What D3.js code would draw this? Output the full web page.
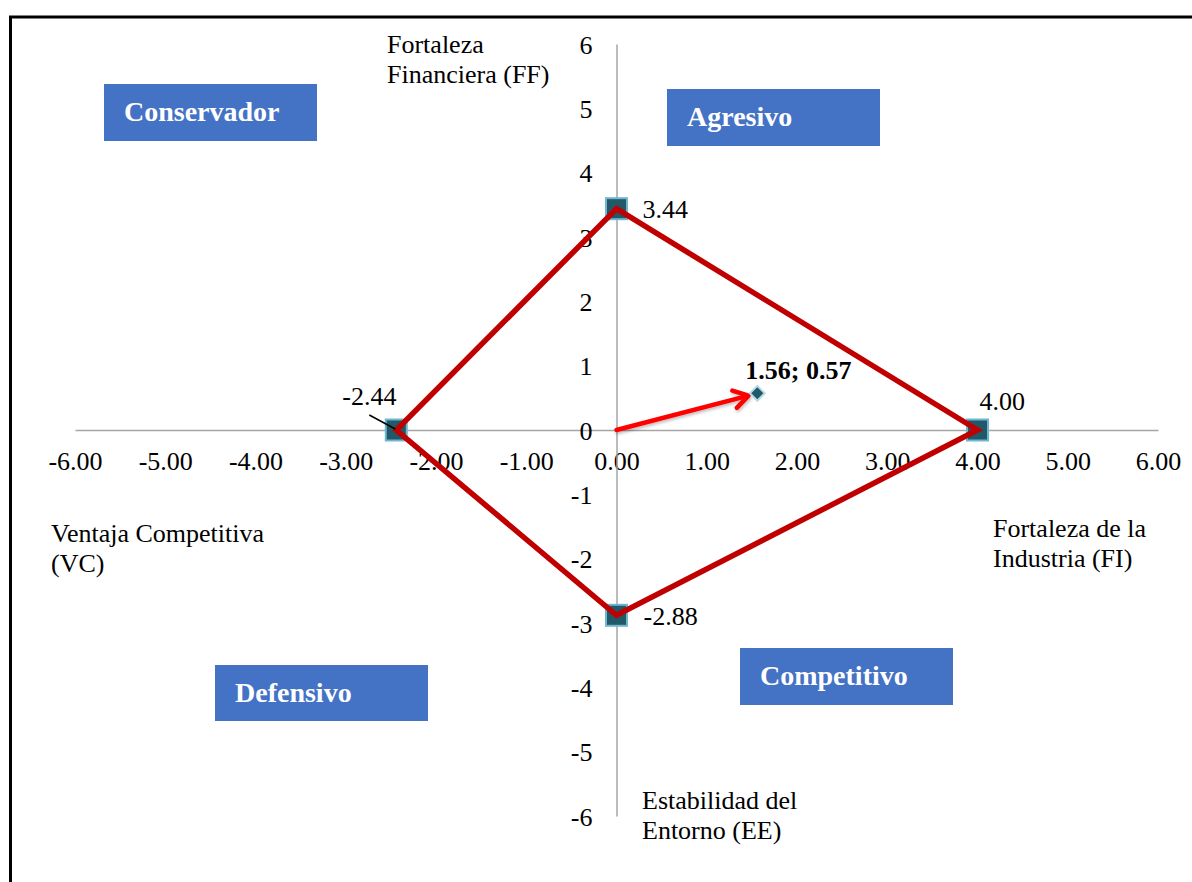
<!DOCTYPE html>
<html>
<head>
<meta charset="utf-8">
<script src="https://cdn.jsdelivr.net/npm/d3@7"></script>
<style>
  html, body { margin: 0; padding: 0; background: #fff; }
  svg { display: block; }
  text { font-family: "Liberation Serif", "Times New Roman", serif; fill: #000; }
</style>
</head>
<body>
<svg id="chart" width="1192" height="882"></svg>
<script>
// Axis ticks
const xTicks = [-6, -5, -4, -3, -2, -1, 0, 1, 2, 3, 4, 5, 6];
const yTicks = [-6, -5, -4, -3, -2, -1, 0, 1, 2, 3, 4, 5, 6];

// PEYEA vertices: FF (up), FI (right), EE (down), VC (left)
const vertexNames = ["FF", "FI", "EE", "VC"];
const vertexX = [0, 4.00, 0, -2.44];
const vertexY = [3.44, 0, -2.88, 0];
const vertexLabels = ["3.44", "4.00", "-2.88", "-2.44"];

// Resulting direction vector
const resultX = 1.56;
const resultY = 0.57;
const resultLabel = "1.56; 0.57";

// Axis titles (two lines each)
const axisTitles = [
  ["Fortaleza", "Financiera (FF)"],
  ["Fortaleza de la", "Industria (FI)"],
  ["Estabilidad del", "Entorno (EE)"],
  ["Ventaja Competitiva", "(VC)"]
];

// Strategic quadrants
const quadrantNames = ["Conservador", "Agresivo", "Defensivo", "Competitivo"];

const svg = d3.select("#chart");

// Layout
const x = d3.scaleLinear().domain([-6, 6]).range([75, 1158]);
const y = d3.scaleLinear().domain([-6, 6]).range([816, 44]);
// plain hyphen for negative numbers
const hyph = f => v => f(v).replace("\u2212", "-");
const fmtX = hyph(d3.format(".2f"));
const fmtY = hyph(d3.format("d"));

const titleLayout = [
  { x: 387, y: 53 },
  { x: 993, y: 537 },
  { x: 642, y: 809 },
  { x: 51, y: 542 }
];
const quadrantLayout = [
  { x: 104, y: 84, w: 213, h: 57 },
  { x: 667, y: 89, w: 213, h: 57 },
  { x: 215, y: 665, w: 213, h: 56 },
  { x: 740, y: 648, w: 213, h: 57 }
];
const labelOffsets = [
  { dx: 26, dy: 9 },
  { dx: 2, dy: -20 },
  { dx: 27, dy: 10 },
  { dx: -54, dy: -25 }
];

// Frame
svg.append("path")
  .attr("d", "M10.5,882 V17 H1192")
  .attr("fill", "none")
  .attr("stroke", "#000")
  .attr("stroke-width", 3);

// Quadrant boxes
const quad = svg.append("g").selectAll("g")
  .data(quadrantNames)
  .join("g");
quad.append("rect")
  .attr("x", (d, i) => quadrantLayout[i].x)
  .attr("y", (d, i) => quadrantLayout[i].y)
  .attr("width", (d, i) => quadrantLayout[i].w)
  .attr("height", (d, i) => quadrantLayout[i].h)
  .attr("fill", "#4472C4");
quad.append("text")
  .attr("x", (d, i) => quadrantLayout[i].x + 20)
  .attr("y", (d, i) => quadrantLayout[i].y + 37)
  .style("fill", "#fff")
  .attr("font-size", 28)
  .attr("font-weight", "bold")
  .text(d => d);

// Axes (plain lines, no tick marks)
const xAxis = svg.append("g")
  .attr("transform", `translate(0,${y(0)})`)
  .call(d3.axisBottom(x).tickValues(xTicks).tickSize(0).tickFormat(fmtX).tickPadding(0));
xAxis.select(".domain").attr("stroke", "#a6a6a6").attr("stroke-width", 1.5);
xAxis.selectAll(".tick text")
  .attr("y", 40).attr("dy", null)
  .attr("font-size", 26)
  .attr("fill", "#000");

const yAxis = svg.append("g")
  .attr("transform", `translate(${x(0)},0)`)
  .call(d3.axisLeft(y).tickValues(yTicks).tickSize(0).tickFormat(fmtY).tickPadding(24));
yAxis.select(".domain").attr("stroke", "#a6a6a6").attr("stroke-width", 1.5);
yAxis.selectAll(".tick text")
  .attr("dy", 9)
  .attr("font-size", 26)
  .attr("fill", "#000");

// Axis titles
svg.append("g").selectAll("text")
  .data(axisTitles)
  .join("text")
  .attr("font-size", 26)
  .attr("x", (d, i) => titleLayout[i].x)
  .attr("y", (d, i) => titleLayout[i].y)
  .each(function (d, i) {
    d3.select(this).selectAll("tspan")
      .data(d)
      .join("tspan")
      .attr("x", titleLayout[i].x)
      .attr("dy", (t, j) => j === 0 ? 0 : 30)
      .text(t => t);
  });

// Vertex markers
const pts = vertexNames.map((n, i) => ({ name: n, x: vertexX[i], y: vertexY[i], label: vertexLabels[i] }));
const sq = 21;
svg.append("g").selectAll("rect")
  .data(pts)
  .join("rect")
  .attr("x", d => x(d.x) - sq / 2)
  .attr("y", d => y(d.y) - sq / 2)
  .attr("width", sq)
  .attr("height", sq)
  .attr("fill", "#215968")
  .attr("stroke", "#6fb6cf")
  .attr("stroke-width", 2);

// Polygon joining the four vertices
const line = d3.line().x(d => x(d.x)).y(d => y(d.y)).curve(d3.curveLinearClosed);
svg.append("path")
  .attr("d", line(pts))
  .attr("fill", "none")
  .attr("stroke", "#C00000")
  .attr("stroke-width", 5.5)
  .attr("stroke-linejoin", "miter");

// Vertex value labels
svg.append("g").selectAll("text")
  .data(pts)
  .join("text")
  .attr("font-size", 26)
  .attr("x", (d, i) => x(d.x) + labelOffsets[i].dx)
  .attr("y", (d, i) => y(d.y) + labelOffsets[i].dy)
  .text(d => d.label);

// Leader line for the VC label
svg.append("line")
  .attr("x1", x(vertexX[3]) - 27).attr("y1", y(vertexY[3]) - 15)
  .attr("x2", x(vertexX[3]) - 1).attr("y2", y(vertexY[3]) - 1)
  .attr("stroke", "#000").attr("stroke-width", 1.5);

// Direction vector from the origin to the result point
const x0 = x(0), y0 = y(0), x1 = x(resultX), y1 = y(resultY);
const ang = Math.atan2(y1 - y0, x1 - x0);
const tipX = x1 - 9 * Math.cos(ang), tipY = y1 - 9 * Math.sin(ang);
const headLen = 17, headAng = 0.55;

const defs = svg.append("defs");
const flt = defs.append("filter").attr("id", "soft").attr("x", "-20%").attr("y", "-50%").attr("width", "140%").attr("height", "200%");
flt.append("feDropShadow").attr("dx", 1).attr("dy", 2).attr("stdDeviation", 1.5).attr("flood-color", "#000").attr("flood-opacity", 0.25);

const arrow = svg.append("g").attr("filter", "url(#soft)");
arrow.append("line")
  .attr("x1", x0).attr("y1", y0)
  .attr("x2", tipX - 2 * Math.cos(ang)).attr("y2", tipY - 2 * Math.sin(ang))
  .attr("stroke", "#FF0000").attr("stroke-width", 4.5).attr("stroke-linecap", "round");
arrow.append("path")
  .attr("d", `M${tipX - headLen * Math.cos(ang - headAng)},${tipY - headLen * Math.sin(ang - headAng)}
              L${tipX},${tipY}
              L${tipX - headLen * Math.cos(ang + headAng)},${tipY - headLen * Math.sin(ang + headAng)}`)
  .attr("fill", "none")
  .attr("stroke", "#FF0000").attr("stroke-width", 4.5)
  .attr("stroke-linecap", "round").attr("stroke-linejoin", "round");

// Result point (diamond)
svg.append("path")
  .attr("d", d3.symbol().type(d3.symbolSquare).size(110)())
  .attr("transform", `translate(${x1},${y1}) rotate(45)`)
  .attr("fill", "#215968")
  .attr("stroke", "#b7dbe8")
  .attr("stroke-width", 2);

svg.append("text")
  .attr("x", x1 - 12).attr("y", y1 - 14)
  .attr("font-size", 26)
  .attr("font-weight", "bold")
  .text(resultLabel);
</script>
</body>
</html>
